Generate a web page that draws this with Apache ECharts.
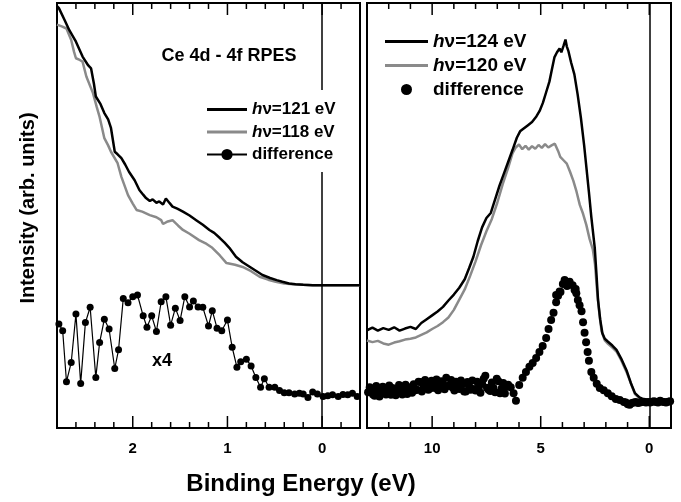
<!DOCTYPE html>
<html>
<head>
<meta charset="utf-8">
<script src="https://cdn.jsdelivr.net/npm/echarts@6/dist/echarts.min.js"></script>
<style>
  html, body { margin: 0; padding: 0; background: #fff; }
  #chart { width: 681px; height: 502px; }
</style>
</head>
<body>
<div id="chart"></div>
<script>
// Ce 4d - 4f resonant photoemission: on/off resonance valence-band spectra and their difference
const FONT = '"Liberation Sans", Arial, Helvetica, sans-serif';

// ---- Left panel: region close to EF ----
const leftX121 = [2.80, 2.78, 2.72, 2.67, 2.60, 2.53, 2.47, 2.44, 2.41, 2.39, 2.34, 2.30, 2.26, 2.23, 2.19, 2.16, 2.12, 2.08, 2.04, 1.98,
  1.93, 1.89, 1.86, 1.82, 1.79, 1.75, 1.72, 1.68, 1.65, 1.61, 1.58, 1.53, 1.47, 1.40, 1.33, 1.26, 1.19, 1.14, 1.08, 1.03,
  0.98, 0.91, 0.84, 0.77, 0.70, 0.63, 0.55, 0.48, 0.42, 0.35, 0.28, 0.20, 0.10, 0.00, -0.10, -0.20, -0.30, -0.40];
const leftY121 = [99.3, 98.8, 96.0, 93.6, 90.9, 87.4, 85.3, 84.6, 81.0, 78.0, 76.2, 74.1, 72.6, 70.6, 65.0, 64.4, 63.5, 62.0, 60.3, 58.3,
  56.0, 54.9, 54.1, 53.4, 53.8, 53.0, 53.3, 52.6, 54.0, 52.9, 52.1, 51.6, 50.9, 50.0, 48.9, 47.8, 46.6, 45.9, 44.7, 43.6,
  42.4, 40.3, 39.0, 38.0, 37.0, 36.0, 35.3, 34.8, 34.4, 34.0, 33.8, 33.7, 33.6, 33.6, 33.6, 33.6, 33.6, 33.6];

const leftX118 = [2.80, 2.75, 2.70, 2.65, 2.62, 2.60, 2.56, 2.53, 2.49, 2.42, 2.38, 2.35, 2.30, 2.26, 2.23, 2.16, 2.12, 2.05, 2.00, 1.96,
  1.90, 1.82, 1.75, 1.70, 1.68, 1.63, 1.58, 1.52, 1.47, 1.40, 1.30, 1.22, 1.16, 1.08, 1.01, 0.92, 0.84, 0.75, 0.66, 0.57,
  0.49, 0.40, 0.31, 0.20, 0.10, 0.00, -0.40];
const leftY118 = [94.9, 94.5, 94.0, 91.3, 88.5, 87.0, 86.6, 86.2, 82.7, 78.8, 75.5, 73.2, 68.2, 66.5, 65.0, 62.3, 59.1, 54.8, 52.8, 51.3,
  50.9, 50.1, 49.6, 48.9, 48.0, 48.6, 48.9, 47.6, 46.6, 45.7, 44.2, 43.3, 42.4, 40.6, 38.8, 38.4, 37.9, 36.9, 35.6, 34.9,
  34.4, 34.0, 33.8, 33.7, 33.6, 33.6, 33.6];

// difference spectrum (x4)
const leftDiffX = [2.78, 2.74, 2.70, 2.65, 2.60, 2.55, 2.50, 2.45, 2.39, 2.35, 2.30, 2.25, 2.19, 2.15, 2.10, 2.05, 2.00, 1.95, 1.89, 1.85,
  1.80, 1.75, 1.70, 1.65, 1.60, 1.55, 1.50, 1.45, 1.40, 1.36, 1.31, 1.26, 1.20, 1.16, 1.11, 1.06, 1.00, 0.95, 0.90, 0.86,
  0.80, 0.75, 0.70, 0.65, 0.61, 0.56, 0.50, 0.45, 0.40, 0.35, 0.29, 0.24, 0.20, 0.15, 0.10, 0.05, -0.01, -0.06, -0.11, -0.17,
  -0.22, -0.27, -0.32, -0.37];
const leftDiffY = [24.5, 22.9, 10.9, 15.4, 26.8, 10.5, 24.8, 28.4, 11.9, 20.1, 25.6, 23.3, 14.0, 18.4, 30.5, 29.5, 30.9, 31.3, 26.4, 23.7,
  26.4, 22.7, 29.7, 30.9, 24.2, 28.2, 25.3, 30.9, 28.5, 29.9, 28.5, 28.4, 24.0, 27.6, 23.5, 22.9, 25.4, 19.0, 14.3, 15.6,
  16.2, 14.6, 11.9, 9.6, 11.6, 9.6, 9.6, 8.8, 8.3, 8.3, 8.0, 8.2, 8.0, 7.2, 8.5, 8.0, 7.4, 7.6, 7.8, 7.4,
  7.9, 7.8, 8.2, 7.4];

// ---- Right panel: full valence band ----
const rightX124 = [13.0, 12.75, 12.5, 12.25, 12.0, 11.75, 11.5, 11.25, 11.0, 10.75, 10.5, 10.25, 10.0, 9.75, 9.5, 9.25, 9.0, 8.75, 8.5, 8.3,
  8.1, 7.9, 7.7, 7.5, 7.3, 7.1, 6.9, 6.7, 6.5, 6.3, 6.1, 5.95, 5.8, 5.6, 5.4, 5.2, 5.05, 4.9, 4.75, 4.6,
  4.5, 4.37, 4.25, 4.13, 4.05, 3.95, 3.86, 3.8, 3.72, 3.6, 3.45, 3.3, 3.15, 3.0, 2.9, 2.78, 2.67, 2.51, 2.43, 2.36,
  2.26, 2.16, 2.05, 1.9, 1.7, 1.51, 1.3, 1.05, 0.85, 0.66, 0.45, 0.28, 0.0, -0.5, -1.0];
const rightY124 = [23.0, 23.6, 22.9, 23.5, 23.1, 23.7, 22.9, 23.4, 23.8, 23.3, 24.7, 25.6, 26.5, 27.4, 28.5, 30.0, 31.4, 33.0, 35.0, 37.6,
  40.3, 44.0, 47.2, 49.4, 50.6, 53.8, 57.0, 59.8, 62.6, 65.4, 68.3, 69.8, 70.4, 71.2, 72.0, 73.3, 74.6, 76.5, 79.0, 81.5,
  84.0, 87.2, 88.4, 89.3, 88.4, 89.9, 91.4, 89.8, 88.6, 86.0, 83.2, 78.5, 73.0, 66.5, 61.5, 55.5, 49.7, 42.3, 36.0, 30.1,
  25.5, 22.3, 21.0, 20.3, 19.4, 18.4, 16.4, 13.6, 10.6, 8.2, 7.2, 6.8, 6.4, 6.2, 6.2];

const rightX120 = [13.0, 12.75, 12.5, 12.25, 12.0, 11.75, 11.5, 11.25, 11.0, 10.75, 10.5, 10.25, 10.0, 9.75, 9.5, 9.25, 9.0, 8.75, 8.5, 8.25,
  8.0, 7.75, 7.5, 7.25, 7.0, 6.75, 6.5, 6.3, 6.15, 6.0, 5.85, 5.7, 5.55, 5.4, 5.25, 5.1, 4.95, 4.8, 4.65, 4.5,
  4.35, 4.2, 4.1, 3.95, 3.8, 3.65, 3.5, 3.35, 3.2, 3.05, 2.9, 2.75, 2.6, 2.5, 2.4, 2.3, 2.2, 2.05, 1.9, 1.7,
  1.5, 1.3, 1.05, 0.85, 0.66, 0.45, 0.28, 0.0, -0.5, -1.0];
const rightY120 = [20.6, 20.2, 20.5, 19.9, 19.6, 20.1, 20.4, 20.8, 21.0, 21.3, 21.9, 22.5, 23.3, 24.0, 24.9, 26.0, 27.8, 30.2, 32.6, 35.8,
  39.2, 43.0, 46.3, 49.2, 53.0, 57.4, 61.2, 64.6, 66.0, 66.7, 65.6, 66.4, 65.5, 66.3, 65.7, 66.6, 65.9, 66.8, 66.0, 66.5,
  66.9, 65.2, 63.8, 63.0, 62.2, 60.3, 58.2, 55.6, 52.5, 50.4, 47.8, 44.5, 42.0, 38.5, 32.0, 27.0, 22.8, 20.6, 19.8, 18.9,
  17.9, 16.0, 13.2, 10.5, 8.0, 7.0, 6.6, 6.3, 6.1, 6.1];

const rightDiffX = [12.95, 12.80, 12.65, 12.50, 12.35, 12.20, 12.05, 11.90, 11.75, 11.60, 11.45, 11.30, 11.15, 11.00, 10.85, 10.70, 10.55, 10.40, 10.25, 10.10,
  9.95, 9.80, 9.65, 9.50, 9.35, 9.20, 9.05, 8.90, 8.75, 8.60, 8.45, 8.30, 8.15, 8.00, 7.85, 7.70, 7.55, 7.40, 7.25, 7.10,
  6.95, 6.80, 6.65, 6.50,
  12.875, 12.725, 12.575, 12.425, 12.275, 12.125, 11.975, 11.825, 11.675, 11.525, 11.375, 11.225, 11.075, 10.925, 10.775, 10.625, 10.475, 10.325, 10.175, 10.025,
  9.875, 9.725, 9.575, 9.425, 9.275, 9.125, 8.975, 8.825, 8.675, 8.525, 8.375, 8.225, 8.075, 7.925, 7.775, 7.625, 7.475, 7.325, 7.175, 7.025,
  6.875, 6.725, 6.575,
  6.38, 6.25, 6.14, 5.99, 5.83, 5.68, 5.52, 5.37, 5.21, 5.06, 4.91, 4.75, 4.64, 4.52, 4.41, 4.29, 4.20, 4.09, 3.98, 3.90,
  3.79, 3.67, 3.53, 3.39, 3.29, 3.21, 3.12, 3.05, 2.98, 2.91, 2.84, 2.78, 2.67, 2.56, 2.42, 2.28, 2.10, 1.91, 1.73, 1.54,
  1.36, 1.17, 0.99, 0.80, 0.62, 0.43, 0.25, 0.06, -0.13, -0.31, -0.50, -0.68, -0.87,
  4.29, 4.13, 3.44, 3.36, 1.08, 0.90, 0.71, 0.52, 0.34, 0.15, -0.04, -0.22, -0.40, -0.59, -0.77, -0.96];
const rightDiffY = [8.4, 9.2, 7.6, 8.9, 8.1, 9.5, 8.6, 7.8, 9.1, 8.3, 9.7, 8.8, 8.0, 9.4, 10.3, 9.0, 10.8, 9.6, 10.1, 9.3,
  10.6, 11.4, 9.8, 10.4, 11.8, 10.0, 9.5, 10.9, 9.2, 10.3, 8.6, 9.9, 11.2, 8.8, 9.6, 10.5, 12.3, 9.0, 10.7, 8.4,
  11.0, 9.3, 8.1, 10.2,
  9.6, 7.9, 9.9, 7.4, 9.7, 7.9, 10.0, 9.4, 7.7, 10.1, 7.9, 10.2, 9.6, 8.3, 8.9, 10.9, 8.6, 11.3, 9.0, 11.1,
  9.4, 8.9, 11.0, 9.1, 9.9, 11.3, 8.8, 9.9, 11.2, 8.6, 10.8, 9.0, 9.2, 10.9, 8.3, 11.6, 9.5, 8.7, 9.4, 11.6,
  8.2, 10.6, 9.7,
  9.6, 8.2, 6.4, 10.1, 11.8, 13.2, 14.4, 15.3, 16.5, 17.9, 19.3, 21.2, 23.3, 25.4, 27.1, 29.6, 31.1, 32.0, 33.9, 34.8,
  33.4, 34.4, 33.6, 32.7, 30.1, 28.9, 27.5, 24.9, 22.4, 20.2, 17.9, 15.8, 13.2, 11.8, 10.4, 9.4, 8.9, 8.2, 7.5, 6.8,
  6.6, 6.1, 5.6, 5.9, 6.1, 6.0, 6.2, 6.1, 6.2, 6.1, 6.4, 6.1, 6.2,
  31.3, 32.1, 32.5, 31.7, 6.0, 5.5, 6.0, 5.9, 6.1, 6.0, 6.0, 6.3, 6.0, 6.2, 6.0, 6.3];

// ---- axis ticks ----
const leftRange = [-0.4, 2.8];
const leftMajor = [2, 1, 0];
const leftMinor = [2.6, 2.4, 2.2, 1.8, 1.6, 1.4, 1.2, 0.8, 0.6, 0.4, 0.2, -0.2];
const rightRange = [-1, 13];
const rightMajor = [10, 5, 0];
const rightMinor = [12, 11, 9, 8, 7, 6, 4, 3, 2, 1];
const yRange = [0, 100];

// ---- legend / annotation text ----
const legendNames = {
  L121: '{i|h}{n|\u03bd=121 eV}',
  L118: '{i|h}{n|\u03bd=118 eV}',
  Ldiff: '{n|difference}',
  R124: '{i|h}{n|\u03bd=124 eV}',
  R120: '{i|h}{n|\u03bd=120 eV}',
  Rdiff: '{n|difference}'
};
const titleText = 'Ce 4d - 4f RPES';
const scaleText = 'x4';
const xTitle = 'Binding Energy (eV)';
const yTitle = 'Intensity (arb. units)';

const zip = (xs, ys) => xs.map((x, i) => [x, ys[i]]);

const BLACK = '#000000';
const GRAY = '#8a8a8a';
const GRID_H = 425;

function xAxisFor(grid, range, labels) {
  return {
    type: 'value', gridIndex: grid, position: 'bottom',
    min: range[0], max: range[1], inverse: true,
    axisLine: { show: false },
    splitLine: { show: false },
    axisTick: { show: false },
    axisLabel: {
      show: true, customValues: labels, margin: 13,
      fontFamily: FONT, fontSize: 15, fontWeight: 'bold', color: '#000'
    }
  };
}

// inward tick marks along the bottom and top frame edges, drawn as short broken line segments
function tickSeries(xIndex, yIndex, major, minor) {
  const unit = (yRange[1] - yRange[0]) / GRID_H;
  const data = [];
  const add = (v, px) => {
    const d = px * unit;
    data.push([v, yRange[0]], [v, yRange[0] + d], [v, '-']);
    data.push([v, yRange[1]], [v, yRange[1] - d], [v, '-']);
  };
  major.forEach(v => add(v, 12));
  minor.forEach(v => add(v, 6));
  return {
    name: 'ticks' + xIndex, type: 'line', xAxisIndex: xIndex, yAxisIndex: yIndex,
    data: data, symbol: 'none', connectNulls: false, clip: false, silent: true,
    lineStyle: { color: '#000', width: 1.5 }, color: '#000', z: 6
  };
}

const zeroLine = {
  silent: true, symbol: ['none', 'none'], label: { show: false },
  lineStyle: { color: '#000', width: 1.5, type: 'solid' },
  data: [{ xAxis: 0 }], animation: false
};

function richStyle(size) {
  return {
    i: { fontFamily: FONT, fontSize: size, fontWeight: 'bold', fontStyle: 'italic', color: '#000' },
    n: { fontFamily: FONT, fontSize: size, fontWeight: 'bold', color: '#000' }
  };
}

const lineIconL = 'path://M0,0L40,0L40,3L0,3Z';
const lineIconR = 'path://M0,0L43,0L43,3L0,3Z';

const chart = echarts.init(document.getElementById('chart'), null, { renderer: 'canvas' });

chart.setOption({
  animation: false,
  backgroundColor: '#fff',
  grid: [
    { left: 57, top: 3, width: 303, height: GRID_H, show: true, borderColor: '#000', borderWidth: 2 },
    { left: 367, top: 3, width: 304, height: GRID_H, show: true, borderColor: '#000', borderWidth: 2 }
  ],
  xAxis: [
    xAxisFor(0, leftRange, leftMajor),
    xAxisFor(1, rightRange, rightMajor)
  ],
  yAxis: [
    { type: 'value', gridIndex: 0, min: yRange[0], max: yRange[1], show: false },
    { type: 'value', gridIndex: 1, min: yRange[0], max: yRange[1], show: false }
  ],
  legend: [
    {
      show: true, selectedMode: false, orient: 'vertical',
      left: 201, top: 90, z: 10,
      backgroundColor: '#fff', padding: [11, 6, 9, 5],
      itemWidth: 40, itemHeight: 14, itemGap: 5.5,
      data: [{ name: 'L121', icon: lineIconL }, { name: 'L118', icon: lineIconL }, { name: 'Ldiff' }],
      formatter: name => legendNames[name],
      textStyle: { fontFamily: FONT, fontSize: 17, fontWeight: 'bold', color: '#000', rich: richStyle(17) }
    },
    {
      show: true, selectedMode: false, orient: 'vertical',
      left: 385, top: 32, z: 10, padding: 0,
      itemWidth: 43, itemHeight: 11, itemGap: 5,
      data: [{ name: 'R124', icon: lineIconR }, { name: 'R120', icon: lineIconR }, { name: 'Rdiff' }],
      formatter: name => legendNames[name],
      textStyle: { fontFamily: FONT, fontSize: 19, fontWeight: 'bold', color: '#000', rich: richStyle(19) }
    }
  ],
  series: [
    { name: 'L118', type: 'line', xAxisIndex: 0, yAxisIndex: 0, data: zip(leftX118, leftY118),
      color: GRAY, symbol: 'none', lineStyle: { color: GRAY, width: 2.5 }, z: 3 },
    { name: 'L121', type: 'line', xAxisIndex: 0, yAxisIndex: 0, data: zip(leftX121, leftY121),
      color: BLACK, symbol: 'none', lineStyle: { color: BLACK, width: 2.5 }, z: 4, markLine: zeroLine },
    { name: 'Ldiff', type: 'line', xAxisIndex: 0, yAxisIndex: 0, data: zip(leftDiffX, leftDiffY),
      color: BLACK, symbol: 'circle', symbolSize: 7, showSymbol: true,
      lineStyle: { color: BLACK, width: 1.2 }, itemStyle: { color: BLACK, opacity: 1 }, z: 5 },
    { name: 'R120', type: 'line', xAxisIndex: 1, yAxisIndex: 1, data: zip(rightX120, rightY120),
      color: GRAY, symbol: 'none', lineStyle: { color: GRAY, width: 2.5 }, z: 3 },
    { name: 'R124', type: 'line', xAxisIndex: 1, yAxisIndex: 1, data: zip(rightX124, rightY124),
      color: BLACK, symbol: 'none', lineStyle: { color: BLACK, width: 2.5 }, z: 4, markLine: zeroLine },
    { name: 'Rdiff', type: 'scatter', xAxisIndex: 1, yAxisIndex: 1, data: zip(rightDiffX, rightDiffY),
      color: BLACK, symbol: 'circle', symbolSize: 8, itemStyle: { color: BLACK, opacity: 1 }, z: 5 },
    tickSeries(0, 0, leftMajor, leftMinor),
    tickSeries(1, 1, rightMajor, rightMinor)
  ],
  graphic: [
    { type: 'text', x: 229, y: 56, z: 20,
      style: { text: titleText, font: 'bold 18px ' + FONT, fill: '#000', textAlign: 'center', textVerticalAlign: 'middle' } },
    { type: 'text', x: 162, y: 361, z: 20,
      style: { text: scaleText, font: 'bold 18px ' + FONT, fill: '#000', textAlign: 'center', textVerticalAlign: 'middle' } },
    { type: 'text', x: 28, y: 208, rotation: Math.PI / 2, z: 20,
      style: { text: yTitle, font: 'bold 20px ' + FONT, fill: '#000', textAlign: 'center', textVerticalAlign: 'middle' } },
    { type: 'text', x: 301, y: 484, z: 20,
      style: { text: xTitle, font: 'bold 24px ' + FONT, fill: '#000', textAlign: 'center', textVerticalAlign: 'middle' } }
  ]
});
</script>
</body>
</html>
